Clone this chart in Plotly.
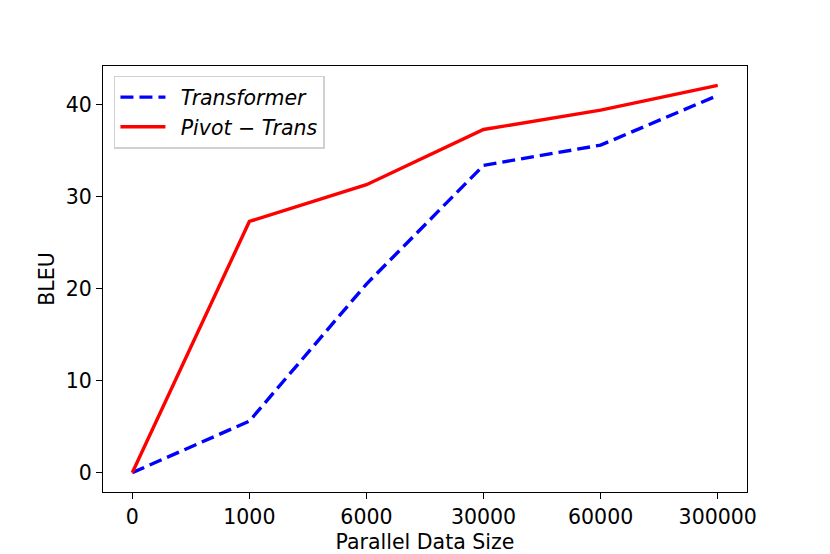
import plotly.graph_objects as go

categories = ["0", "1000", "6000", "30000", "60000", "300000"]
transformer = [0, 5.6, 20.5, 33.4, 35.6, 41.0]
pivot_trans = [0, 27.3, 31.3, 37.3, 39.4, 42.1]
y_ticks = [0, 10, 20, 30, 40]

x_idx = list(range(len(categories)))

fig = go.Figure()
fig.add_trace(go.Scatter(
    x=x_idx, y=transformer, mode="lines",
    name="\u2002<i>Transformer</i>",
    line=dict(color="#0000ff", width=3.4, dash="13px,6px"),
))
fig.add_trace(go.Scatter(
    x=x_idx, y=pivot_trans, mode="lines",
    name="\u2002<i>Pivot − Trans</i>",
    line=dict(color="#ff0000", width=3.4),
))

font = dict(family="DejaVu Sans", size=20.5, color="black")
fig.update_layout(
    width=822, height=546,
    margin=dict(l=95, r=83, t=58, b=62),
    paper_bgcolor="white", plot_bgcolor="white",
    font=font,
    showlegend=True,
    legend=dict(
        x=0.017, y=0.977, xanchor="left", yanchor="top",
        bgcolor="white", bordercolor="#d0d0d0", borderwidth=1.5,
        font=dict(family="DejaVu Sans", size=20.5, color="black"),
        itemwidth=45, tracegroupgap=0,
    ),
    xaxis=dict(
        range=[-0.25, 5.25], automargin=False,
        tickmode="array", tickvals=x_idx, ticktext=categories,
        showgrid=False, zeroline=False,
        showline=True, linecolor="black", linewidth=1.3, mirror=True,
        ticks="outside", ticklen=6, tickwidth=1.3, tickcolor="black",
        title=dict(text="Parallel Data Size", font=font, standoff=6),
    ),
    yaxis=dict(
        range=[-2.1, 44.2], automargin=False,
        tickmode="array", tickvals=y_ticks,
        showgrid=False, zeroline=False,
        showline=True, linecolor="black", linewidth=1.3, mirror=True,
        ticks="outside", ticklen=6, tickwidth=1.3, tickcolor="black",
        title=dict(text="BLEU", font=font, standoff=5),
    ),
)

fig.write_html("out.html")
